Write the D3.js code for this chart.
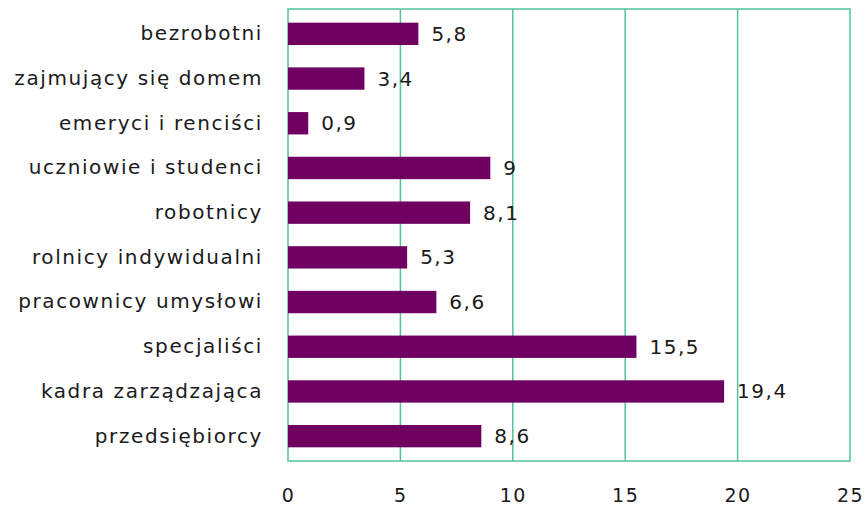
<!DOCTYPE html>
<meta charset="utf-8">
<style>
body { margin: 0; background: #fff; }
text { font-family: "DejaVu Sans", sans-serif; fill: #1a1a1a; }
</style>
<body>
<script src="https://d3js.org/d3.v7.min.js"></script>
<script>

// data
var categories = ["bezrobotni", "zajmujący się domem", "emeryci i renciści",
  "uczniowie i studenci", "robotnicy", "rolnicy indywidualni",
  "pracownicy umysłowi", "specjaliści", "kadra zarządzająca", "przedsiębiorcy"];
var values = [5.8, 3.4, 0.9, 9, 8.1, 5.3, 6.6, 15.5, 19.4, 8.6];
var ticks = [0, 5, 10, 15, 20, 25];

var width = 865, height = 506;
var plot = {left: 288, right: 850, top: 9, bottom: 461};

var svg = d3.select("body").append("svg")
    .attr("width", width)
    .attr("height", height);

var x = d3.scaleLinear().domain([0, 25]).range([plot.left, plot.right]);
var y = d3.scaleBand().domain(categories).range([11.5, 458.5])
    .paddingInner(0.5).paddingOuter(0.25);

var grid = "#52c29d";

// gridlines
svg.append("g").selectAll("line")
    .data(ticks.slice(1, -1))
  .enter().append("line")
    .attr("x1", function(d) { return x(d); })
    .attr("x2", function(d) { return x(d); })
    .attr("y1", plot.top)
    .attr("y2", plot.bottom)
    .attr("stroke", grid)
    .attr("stroke-width", 1.5);

// frame
svg.append("rect")
    .attr("x", plot.left)
    .attr("y", plot.top)
    .attr("width", plot.right - plot.left)
    .attr("height", plot.bottom - plot.top)
    .attr("fill", "none")
    .attr("stroke", grid)
    .attr("stroke-width", 1.5);

// bars
svg.append("g").selectAll("rect")
    .data(values)
  .enter().append("rect")
    .attr("x", x(0))
    .attr("y", function(d, i) { return y(categories[i]); })
    .attr("width", function(d) { return x(d) - x(0); })
    .attr("height", y.bandwidth())
    .attr("fill", "#6f0061");

// value labels
svg.append("g").selectAll("text")
    .data(values)
  .enter().append("text")
    .attr("x", function(d) { return x(d) + 13; })
    .attr("y", function(d, i) { return y(categories[i]) + y.bandwidth() / 2; })
    .attr("dy", "0.35em")
    .style("font-size", "20px")
    .style("letter-spacing", "1.5px")
    .text(function(d) { return String(d).replace(".", ","); });

// category axis
var yAxis = svg.append("g")
    .attr("transform", "translate(" + (plot.left - 25) + ",0)")
    .call(d3.axisLeft(y).tickSize(0).tickPadding(0));
yAxis.select(".domain").remove();
yAxis.selectAll("text")
    .style("font-size", "20px")
    .style("letter-spacing", "1.6px")
    .attr("fill", "#1a1a1a");

// value axis
var xAxis = svg.append("g")
    .attr("transform", "translate(0," + (plot.bottom + 27) + ")")
    .call(d3.axisBottom(x).tickValues(ticks).tickSize(0).tickPadding(0));
xAxis.select(".domain").remove();
xAxis.selectAll("text")
    .style("font-size", "19px")
    .style("letter-spacing", "1.5px")
    .attr("fill", "#1a1a1a");

</script>
</body>
